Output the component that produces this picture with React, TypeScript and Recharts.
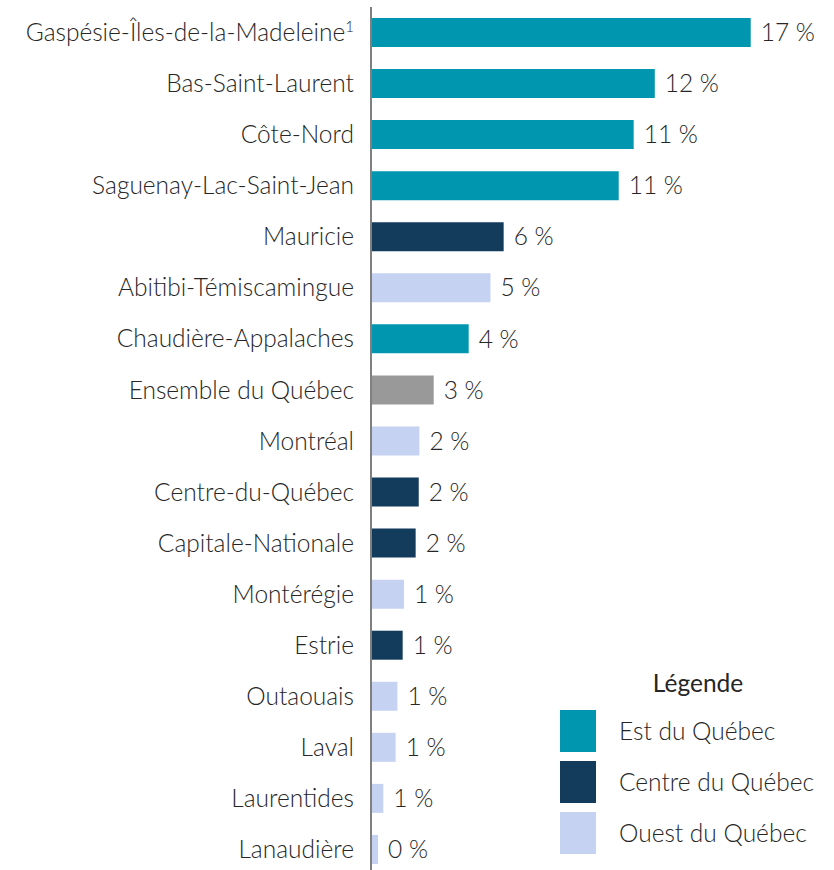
import { BarChart, Bar, XAxis, YAxis, Cell, LabelList } from 'recharts';

const regions = [
  'Gaspésie-Îles-de-la-Madeleine',
  'Bas-Saint-Laurent',
  'Côte-Nord',
  'Saguenay-Lac-Saint-Jean',
  'Mauricie',
  'Abitibi-Témiscamingue',
  'Chaudière-Appalaches',
  'Ensemble du Québec',
  'Montréal',
  'Centre-du-Québec',
  'Capitale-Nationale',
  'Montérégie',
  'Estrie',
  'Outaouais',
  'Laval',
  'Laurentides',
  'Lanaudière',
];

const values = [17.26, 12.9, 11.94, 11.26, 6.03, 5.43, 4.44, 2.85, 2.2, 2.17, 2.03, 1.5, 1.44, 1.2, 1.12, 0.56, 0.32];

const valueLabels = ['17 %', '12 %', '11 %', '11 %', '6 %', '5 %', '4 %', '3 %', '2 %', '2 %', '2 %', '1 %', '1 %', '1 %', '1 %', '1 %', '0 %'];

const groups = ['est', 'est', 'est', 'est', 'centre', 'ouest', 'est', 'ensemble', 'ouest', 'centre', 'centre', 'ouest', 'centre', 'ouest', 'ouest', 'ouest', 'ouest'];

const groupColors: Record<string, string> = {
  est: '#0096B0',
  centre: '#133B5C',
  ouest: '#C5D2F2',
  ensemble: '#999999',
};

const legendItems = [
  { key: 'est', label: 'Est du Québec' },
  { key: 'centre', label: 'Centre du Québec' },
  { key: 'ouest', label: 'Ouest du Québec' },
];

const superscripts: Record<string, string> = { 'Gaspésie-Îles-de-la-Madeleine': '1' };

const data = regions.map((r, i) => ({ region: r, value: values[i], label: valueLabels[i], group: groups[i] }));

const FONT = 'Lato, "Open Sans", sans-serif';
const TEXT = '#262626';
const FS = 24.5;

function RegionTick(props: any) {
  const { x, y, payload } = props;
  const sup = superscripts[payload.value];
  return (
    <text x={x} y={y} dy="0.35em" textAnchor="end" fill={TEXT} fontSize={FS} fontFamily={FONT} fontWeight={300}>
      {payload.value}
      {sup && (
        <tspan fontSize={15} dy="-0.6em">
          {sup}
        </tspan>
      )}
    </text>
  );
}

function LegendBox() {
  return (
    <div style={{ position: 'absolute', left: 540, top: 660, width: 294, fontFamily: FONT, color: TEXT }}>
      <div style={{ fontSize: FS, textAlign: 'center', width: 316, height: 45, lineHeight: '45px' }}>Légende</div>
      {legendItems.map((it) => (
        <div key={it.key} style={{ display: 'flex', alignItems: 'center', height: 51 }}>
          <div style={{ width: 36, height: 42, background: groupColors[it.key], marginLeft: 20 }} />
          <span style={{ marginLeft: 23, fontSize: FS, fontWeight: 300 }}>{it.label}</span>
        </div>
      ))}
    </div>
  );
}

export default function App() {
  return (
    <div style={{ position: 'absolute', left: 0, top: 0, width: 834, height: 870, overflow: 'hidden', background: '#fff' }}>
      <BarChart
        width={834}
        height={880}
        data={data}
        layout="vertical"
        margin={{ top: 7, right: 23, bottom: 5, left: 0 }}
        barSize={29}
      >
        <XAxis type="number" domain={[0, 20]} hide />
        <YAxis
          type="category"
          dataKey="region"
          width={371}
          tickSize={6}
          tickMargin={11}
          tickLine={false}
          axisLine={{ stroke: '#808080', strokeWidth: 2 }}
          tick={<RegionTick />}
          interval={0}
        />
        <Bar dataKey="value" isAnimationActive={false}>
          {data.map((d) => (
            <Cell key={d.region} fill={groupColors[d.group]} />
          ))}
          <LabelList
            dataKey="label"
            position="right"
            offset={10}
            fill={TEXT}
            fontSize={FS}
            fontFamily={FONT}
            fontWeight={300}
          />
        </Bar>
      </BarChart>
      <LegendBox />
    </div>
  );
}
